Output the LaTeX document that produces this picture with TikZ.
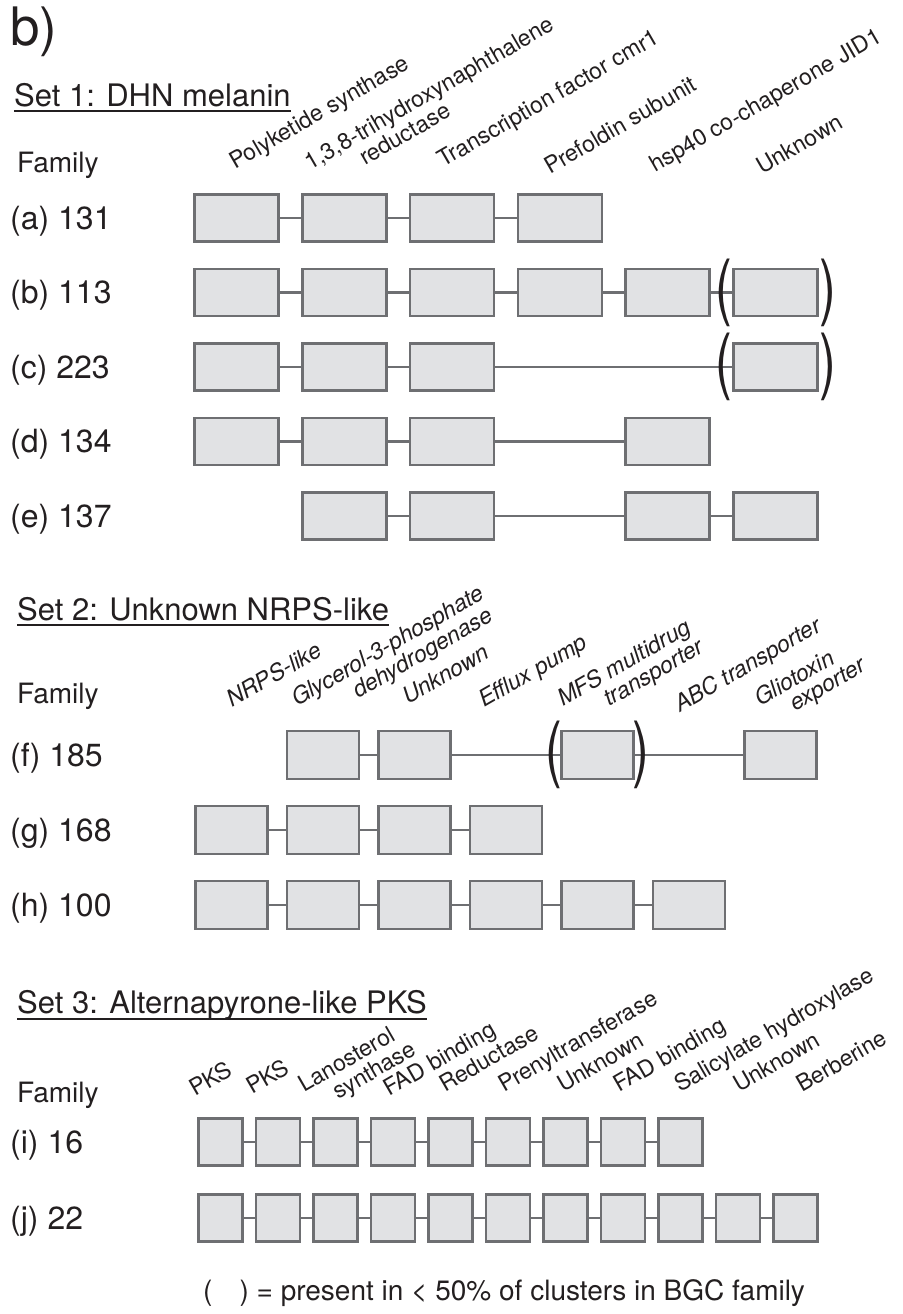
\documentclass[tikz,border=0pt]{standalone}
\usepackage{fontspec}
\setmainfont{TeX Gyre Heros}

\definecolor{boxfill}{RGB}{225,226,228}
\definecolor{boxline}{RGB}{110,111,114}
\definecolor{ink}{RGB}{35,31,32}

\tikzset{
  gene/.style={draw=boxline, fill=boxfill, line width=2.6pt, inner sep=0pt},
  geneA/.style={gene, minimum width=84pt, minimum height=47pt},
  geneB/.style={gene, minimum width=72pt, minimum height=48pt},
  geneC/.style={gene, minimum width=44pt, minimum height=47pt},
  link/.style={draw=boxline, line width=2.2pt},
  lbl/.style={rotate=30, anchor=base west, inner sep=0pt, text=ink,
              font=\fontsize{23}{23}\selectfont},
  lblit/.style={lbl, font=\fontsize{23}{23}\selectfont\itshape},
  settitle/.style={anchor=base west, inner sep=0pt, text=ink,
                   font=\fontsize{31}{31}\selectfont},
  famhead/.style={anchor=base west, inner sep=0pt, text=ink,
                  font=\fontsize{28}{28}\selectfont},
  famrow/.style={anchor=base west, inner sep=0pt, text=ink,
                 font=\fontsize{32}{32}\selectfont},
  paren/.style={inner sep=0pt, text=ink, font=\fontsize{72}{72}\selectfont},
  uline/.style={draw=ink, line width=1.6pt}
}
\newcommand{\thinopen}{\scalebox{.7}[1]{(}}
\newcommand{\thinclose}{\scalebox{.7}[1]{)}}

\begin{document}
\begin{tikzpicture}[x=1pt, y=-1pt]
\useasboundingbox (0,0) rectangle (902,1314);

\node[anchor=base west, inner sep=0pt, text=ink, font=\fontsize{53}{53}\selectfont] (panel) at (10,46) {b)};

% set 1
\node[settitle] (t1) at (14,106) {Set 1: DHN melanin};
\draw[uline] ([yshift=-5pt]t1.base west) -- ([yshift=-5pt]t1.base east);
\node[famhead] (fam1) at (17,172) {Family};

\node[lbl] (l1) at (235,170) {Polyketide synthase};
\node[lbl] (l2a) at (310,171) {1,3,8-trihydroxynaphthalene};
\node[lbl] (l2b) at (365,166) {reductase};
\node[lbl] (l3) at (443,168) {Transcription factor cmr1};
\node[lbl] (l4) at (550,175) {Prefoldin subunit};
\node[lbl] (l5) at (655,173) {hsp40 co-chaperone JID1};
\node[lbl] (l6) at (762,175) {Unknown};

\node[famrow] (ra) at (10,229) {(a) 131};
\node[famrow] (rb) at (10,303.5) {(b) 113};
\node[famrow] (rc) at (10,378) {(c) 223};
\node[famrow] (rd) at (10,452.5) {(d) 134};
\node[famrow] (re) at (10,527) {(e) 137};

\foreach \r/\y/\cols in {a/218/{1,2,3,4}, b/292.5/{1,2,3,4,5,6}, c/367/{1,2,3,6},
                         d/441.5/{1,2,3,5}, e/516/{2,3,5,6}}{
  \foreach \c in \cols
    \node[geneA] (\r\c) at ({236.5+107.8*(\c-1)},\y) {};
}
\foreach \i/\j in {a1/a2,a2/a3,a3/a4,b1/b2,b2/b3,b3/b4,b4/b5,b5/b6,
                   c1/c2,c2/c3,c3/c6,d1/d2,d2/d3,d3/d5,e2/e3,e3/e5,e5/e6}{
  \draw[link] (\i) -- (\j);
}
\node[paren] (bo) at (724,292.5) {\thinopen};
\node[paren] (bc) at (828,292.5) {\thinclose};
\node[paren] (co) at (724,367) {\thinopen};
\node[paren] (cc) at (828,367) {\thinclose};

% set 2
\node[settitle] (t2) at (17,620) {Set 2: Unknown NRPS-like};
\draw[uline] ([yshift=-5pt]t2.base west) -- ([yshift=-5pt]t2.base east);
\node[famhead] (fam2) at (17,703) {Family};

\node[lblit] (m1) at (232,708) {NRPS-like};
\node[lblit] (m2a) at (297,707) {Glycerol-3-phosphate};
\node[lblit] (m2b) at (358,699) {dehydrogenase};
\node[lblit] (m3) at (408,705) {Unknown};
\node[lblit] (m4) at (484,708) {Efflux pump};
\node[lblit] (m5a) at (563,707) {MFS multidrug};
\node[lblit] (m5b) at (609,707) {transporter};
\node[lblit] (m6) at (680,713) {ABC transporter};
\node[lblit] (m7a) at (760,707) {Gliotoxin};
\node[lblit] (m7b) at (795,712) {exporter};

\node[famrow] (rf) at (10,766) {(f) 185};
\node[famrow] (rg) at (10,841) {(g) 168};
\node[famrow] (rh) at (10,916) {(h) 100};

\foreach \r/\y/\cols in {f/755/{2,3,5,7}, g/830/{1,2,3,4}, h/905/{1,2,3,4,5,6}}{
  \foreach \c in \cols
    \node[geneB] (\r\c) at ({231.5+91.5*(\c-1)},\y) {};
}
\foreach \i/\j in {f2/f3,f3/f5,f5/f7,g1/g2,g2/g3,g3/g4,
                   h1/h2,h2/h3,h3/h4,h4/h5,h5/h6}{
  \draw[link] (\i) -- (\j);
}
\node[paren] (fo) at (553.5,755) {\thinopen};
\node[paren] (fc) at (641,755) {\thinclose};

% set 3
\node[settitle] (t3) at (17,1013) {Set 3: Alternapyrone-like PKS};
\draw[uline] ([yshift=-6pt]t3.base west) -- ([yshift=-6pt]t3.base east);
\node[famhead] (fam3) at (17,1102) {Family};

\node[lbl] (n1) at (195,1097) {PKS};
\node[lbl] (n2) at (252,1095) {PKS};
\node[lbl] (n3a) at (304,1093) {Lanosterol};
\node[lbl] (n3b) at (338,1100) {synthase};
\node[lbl] (n4) at (389,1097) {FAD binding};
\node[lbl] (n5) at (445,1093) {Reductase};
\node[lbl] (n6) at (504,1093) {Prenyltransferase};
\node[lbl] (n7) at (563,1093) {Unknown};
\node[lbl] (n8) at (619,1093) {FAD binding};
\node[lbl] (n9) at (680,1093) {Salicylate hydroxylase};
\node[lbl] (n10) at (739,1093) {Unknown};
\node[lbl] (n11) at (802,1093) {Berberine};

\node[famrow] (ri) at (10,1153) {(i) 16};
\node[famrow] (rj) at (10,1229) {(j) 22};

\foreach \c in {1,...,9}
  \node[geneC] (i\c) at ({220.5+57.5*(\c-1)},1142) {};
\foreach \c in {1,...,11}
  \node[geneC] (j\c) at ({220.5+57.5*(\c-1)},1218) {};
\foreach \c [evaluate=\c as \n using int(\c+1)] in {1,...,8}
  \draw[link] (i\c) -- (i\n);
\foreach \c [evaluate=\c as \n using int(\c+1)] in {1,...,10}
  \draw[link] (j\c) -- (j\n);

% key
\node[famhead] (key) at (203,1300) {(\hspace{27pt}) = present in < 50\% of clusters in BGC family};
\end{tikzpicture}
\end{document}
